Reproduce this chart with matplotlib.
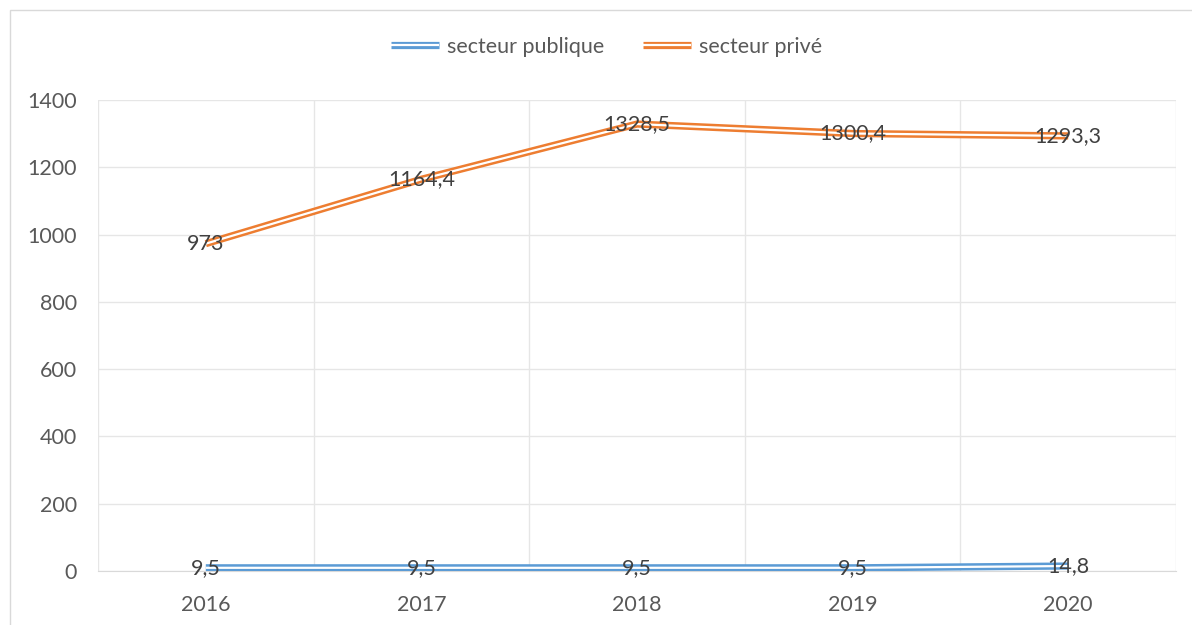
import matplotlib
matplotlib.use("Agg")
import matplotlib.pyplot as plt
import matplotlib.patheffects as pe
from matplotlib.lines import Line2D
from matplotlib.patches import Rectangle

years = ["2016", "2017", "2018", "2019", "2020"]
public = [9.5, 9.5, 9.5, 9.5, 14.8]
private = [973, 1164.4, 1328.5, 1300.4, 1293.3]
series_names = ["secteur publique", "secteur privé"]
colors = ["#5B9BD5", "#ED7D31"]
yticks = [0, 200, 400, 600, 800, 1000, 1200, 1400]

plt.rcParams['font.family'] = ['Lato', 'DejaVu Sans']
FS = 15.5

fig = plt.figure(figsize=(11.92, 6.25), dpi=100)
ax = fig.add_axes([98/1192, 54/625, 1078/1192, 471/625])

def double(c):
    return [pe.Stroke(linewidth=5.2, foreground=c, capstyle="butt"),
            pe.Stroke(linewidth=1.6, foreground="white", capstyle="butt")]

x = list(range(len(years)))
handles = []
for vals, name, c in zip([public, private], series_names, colors):
    ln, = ax.plot(x, vals, color=c, lw=5.2, solid_joinstyle="miter",
                  solid_capstyle="butt", zorder=3)
    ln.set_path_effects(double(c))
    for xi, v in zip(x, vals):
        ax.text(xi, v, f"{v:g}".replace(".", ","), ha="center", va="center",
                fontsize=FS, color="#404040", zorder=4)
    h = Line2D([0], [0], color=c, lw=5.2, solid_capstyle="butt")
    h.set_path_effects(double(c))
    handles.append(h)

ax.set_xlim(-0.5, len(years) - 0.5)
ax.set_ylim(0, 1400)
ax.set_yticks(yticks)
ax.set_yticklabels([str(t) for t in yticks])
ax.set_xticks(x)
ax.set_xticklabels(years)
ax.set_xticks([i - 0.5 for i in range(len(years) + 1)], minor=True)
ax.grid(True, which="major", axis="y", color="#E6E6E6", lw=1)
ax.grid(True, which="minor", axis="x", color="#E6E6E6", lw=1)
ax.set_axisbelow(True)
ax.tick_params(axis="both", which="both", length=0, colors="#595959", labelsize=FS)
ax.tick_params(axis="x", pad=17)
ax.tick_params(axis="y", pad=15)
for s in ["top", "right", "left"]:
    ax.spines[s].set_visible(False)
ax.spines["bottom"].set_color("#D9D9D9")

fig.legend(handles, series_names, loc="center", bbox_to_anchor=(607/1192, 1 - 47/625),
           ncol=2, frameon=False, fontsize=FS, labelcolor="#595959",
           handlelength=2.2, handletextpad=0.4, columnspacing=1.8)

fig.patches.append(Rectangle((10/1192, -0.05), 1.1, 1 - 10/625 + 0.05,
                             transform=fig.transFigure, fill=False,
                             edgecolor="#D9D9D9", lw=1, zorder=0))

fig.savefig("out.png", dpi=100)
